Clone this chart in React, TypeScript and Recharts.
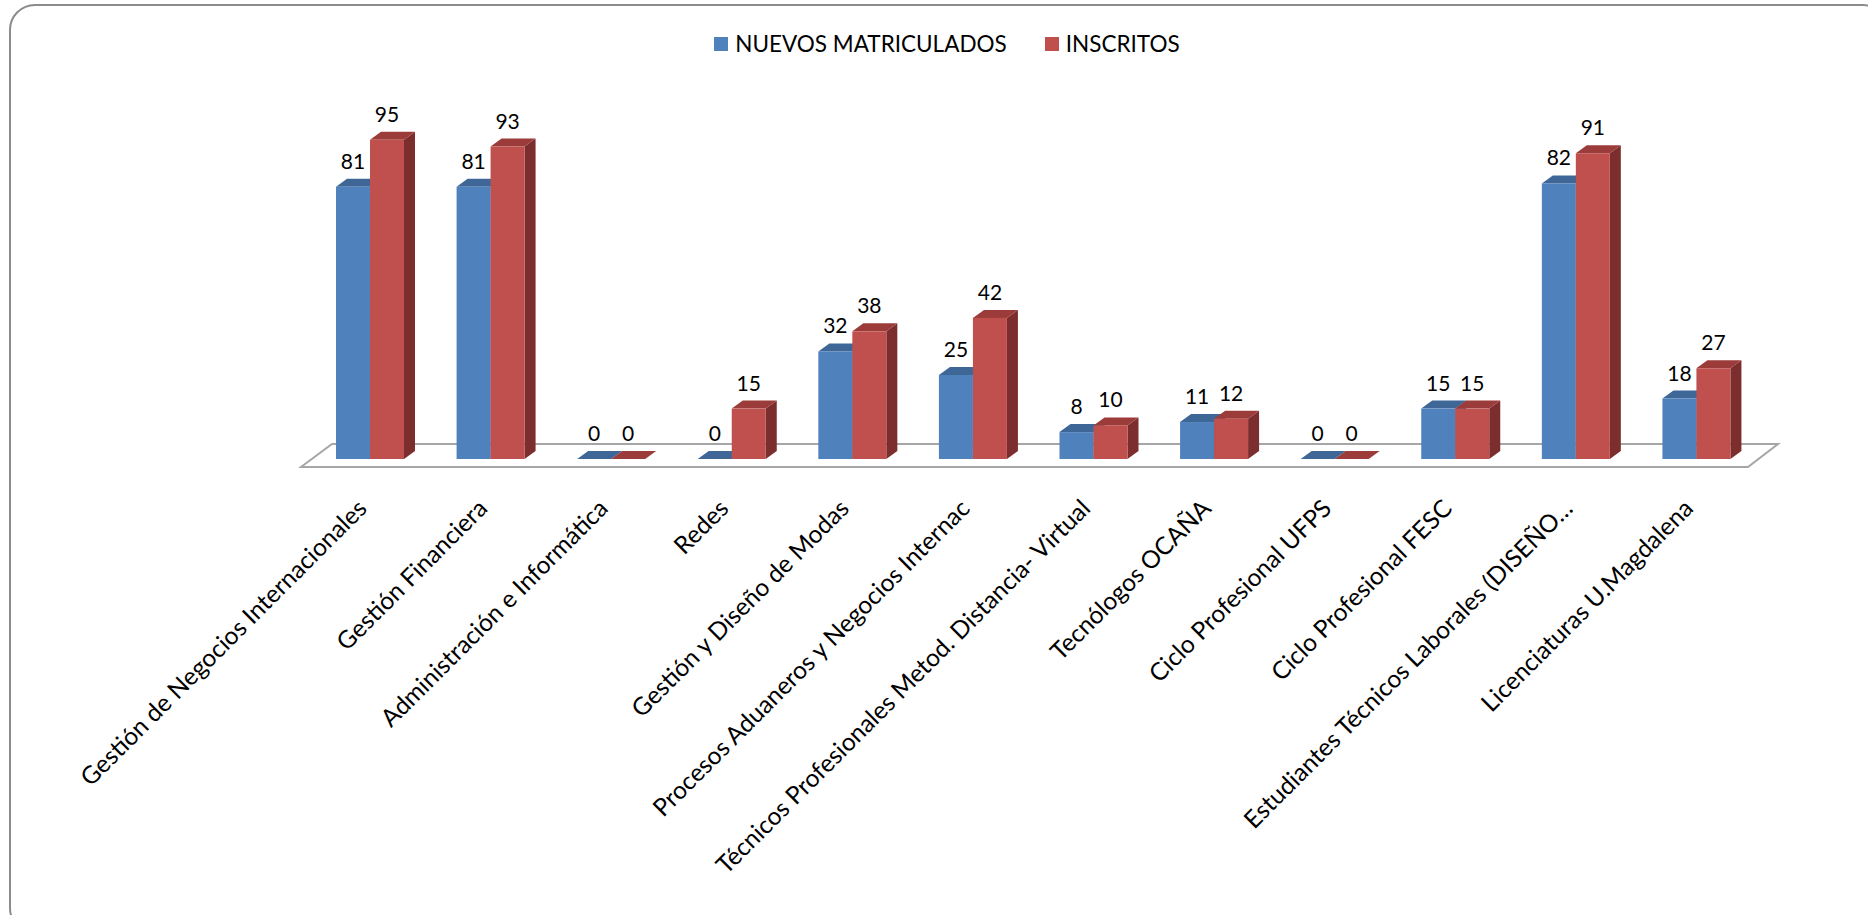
import { BarChart, Bar, XAxis, YAxis, Legend, LabelList, ReferenceLine } from "recharts"

const categories = [
  "Gestión de Negocios Internacionales",
  "Gestión Financiera",
  "Administración e Informática",
  "Redes",
  "Gestión y Diseño de Modas",
  "Procesos Aduaneros y Negocios Internac",
  "Técnicos Profesionales Metod. Distancia- Virtual",
  "Tecnólogos OCAÑA",
  "Ciclo Profesional UFPS",
  "Ciclo Profesional FESC",
  "Estudiantes Técnicos Laborales (DISEÑO…",
  "Licenciaturas U.Magdalena",
]
const nuevosMatriculados = [81, 81, 0, 0, 32, 25, 8, 11, 0, 15, 82, 18]
const inscritos = [95, 93, 0, 15, 38, 42, 10, 12, 0, 15, 91, 27]

const series = [
  { key: "nuevos", name: "NUEVOS MATRICULADOS", front: "#4F81BD", top: "#3E6797", side: "#365B88" },
  { key: "inscritos", name: "INSCRITOS", front: "#C0504D", top: "#9B3C3A", side: "#7B2E2D" },
]

const data = categories.map((name, i) => ({
  name,
  nuevos: nuevosMatriculados[i],
  inscritos: inscritos[i],
}))

const FONT = "Lato, 'Open Sans', sans-serif"
const DX = 11
const DY = 8
const MARGIN = { top: 123, right: 111, left: 310, bottom: 400 }

// 3D-ish box: front face + top face + right side
function makeBox(front: string, top: string, side: string) {
  return (props: any) => {
    const { x, y, width, height } = props
    const h = Math.max(height || 0, 0)
    return (
      <g>
        <polygon
          points={`${x + width},${y} ${x + width + DX},${y - DY} ${x + width + DX},${y + h - DY} ${x + width},${y + h}`}
          fill={side}
        />
        <polygon
          points={`${x},${y} ${x + DX},${y - DY} ${x + width + DX},${y - DY} ${x + width},${y}`}
          fill={top}
        />
        {h > 0 && <rect x={x} y={y} width={width} height={h} fill={front} />}
      </g>
    )
  }
}

function Floor(props: any) {
  const { x1, x2, y1 } = props
  if (x1 == null || y1 == null) return null
  const pts = `${x1 - 9},${y1 + 8} ${x1 + 22},${y1 - 15} ${x2 + 21},${y1 - 15} ${x2 - 9},${y1 + 8}`
  return <polygon points={pts} fill="#ffffff" stroke="#a6a6a6" strokeWidth={2} />
}

function CategoryTick(props: any) {
  const { x, y, payload } = props
  const ax = x - 2
  const ay = y + 51
  return (
    <text
      x={ax}
      y={ay}
      transform={`rotate(-45, ${ax}, ${ay})`}
      textAnchor="end"
      fontFamily={FONT}
      fontSize={24.5}
      fill="#000"
    >
      {payload.value}
    </text>
  )
}

function LegendContent() {
  return (
    <div style={{ display: "flex", justifyContent: "center", fontFamily: FONT, fontSize: 22.5, color: "#000" }}>
      {series.map((s) => (
        <div key={s.key} style={{ display: "flex", alignItems: "center", marginLeft: 19, marginRight: 19 }}>
          <span style={{ width: 14, height: 14, background: s.front, display: "inline-block", marginRight: 7 }} />
          <span>{s.name}</span>
        </div>
      ))}
    </div>
  )
}

export default function App() {
  return (
    <div style={{ position: "absolute", left: 0, top: 0, width: 1868, height: 915, overflow: "hidden", background: "#fff" }}>
      <div
        style={{
          position: "absolute",
          left: 9,
          top: 4,
          width: 1880,
          height: 930,
          border: "2px solid #8c8c8c",
          borderRadius: 26,
          boxSizing: "border-box",
        }}
      />
      {/* back layer: the floor under the bars */}
      <div style={{ position: "absolute", left: 0, top: 0 }}>
        <BarChart width={1868} height={915} data={data} margin={MARGIN} barGap={0} barSize={34}>
          <XAxis dataKey="name" height={56} axisLine={false} tickLine={false} tick={false} />
          <YAxis hide domain={[0, 100]} />
          <Bar dataKey="inscritos" fill="none" isAnimationActive={false} />
          <ReferenceLine y={0} ifOverflow="visible" shape={<Floor />} />
        </BarChart>
      </div>
      <div style={{ position: "absolute", left: 0, top: 0 }}>
        <BarChart width={1868} height={915} data={data} margin={MARGIN} barGap={0} barSize={34}>
          <XAxis
            dataKey="name"
            height={56}
            axisLine={false}
            tickLine={false}
            tickSize={0}
            tickMargin={0}
            interval={0}
            tick={<CategoryTick />}
          />
          <YAxis hide domain={[0, 100]} />
          <Legend
            layout="horizontal"
            verticalAlign="middle"
            align="center"
            wrapperStyle={{ top: 30, left: 13, width: 1868 }}
            content={<LegendContent />}
          />
          {series.map((s) => (
            <Bar
              key={s.key}
              dataKey={s.key}
              name={s.name}
              fill={s.front}
              isAnimationActive={false}
              shape={makeBox(s.front, s.top, s.side)}
            >
              <LabelList dataKey={s.key} position="top" offset={18} fontFamily={FONT} fontSize={21} fill="#000" />
            </Bar>
          ))}
        </BarChart>
      </div>
    </div>
  )
}
